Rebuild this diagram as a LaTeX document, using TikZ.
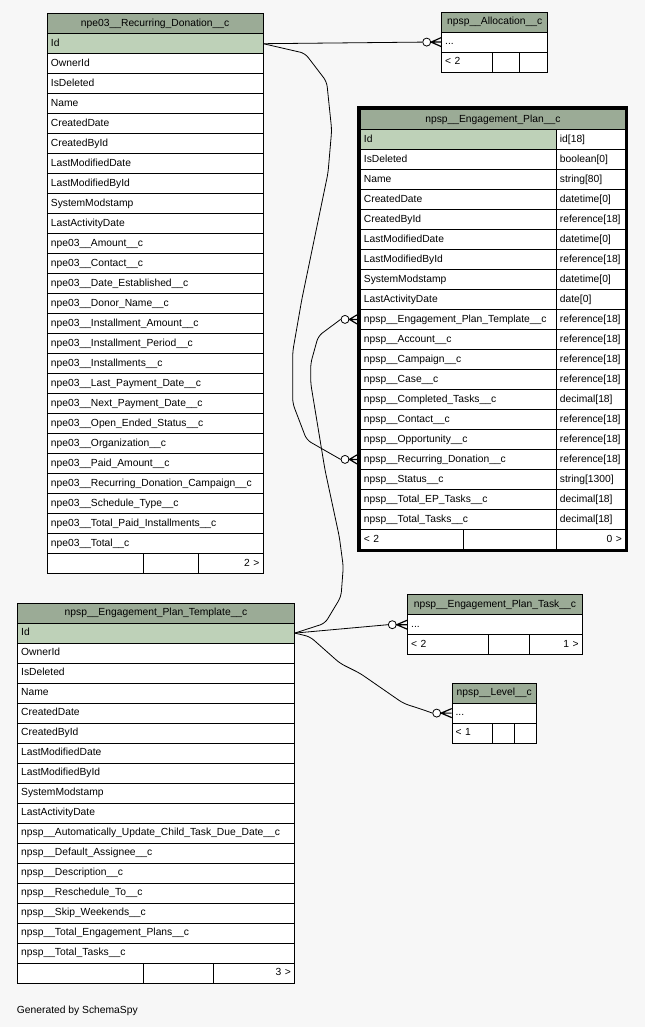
\documentclass[tikz,border=0pt]{standalone}
\usepackage{fontspec}
\setmainfont{Liberation Sans}
\usetikzlibrary{calc}
\definecolor{bgc}{HTML}{F7F7F7}
\definecolor{hdrc}{HTML}{9BAB96}
\definecolor{pkc}{HTML}{BED1B8}
\begin{document}
\begin{tikzpicture}[x=1pt,y=-1pt,font=\fontsize{10.3}{12}\selectfont,
  cell/.style={draw=black,fill=white,line width=0.8pt,inner xsep=3.5pt,inner ysep=0pt,
    minimum height=20pt,text width=#1,align=left,anchor=north west,text height=7.5pt,text depth=2pt},
  cellr/.style={cell=#1,align=right},
  pk/.style={cell=#1,fill=pkc},
  hdr/.style={draw=black,fill=hdrc,line width=0.8pt,inner sep=0pt,minimum height=20pt,
    minimum width=#1,anchor=north west,text height=7.5pt,text depth=2pt},
  conn/.style={draw=black,line width=0.8pt,rounded corners=5pt},
  crowline/.style={draw=black,line width=1.2pt},
  odot/.style={circle,draw=black,fill=white,line width=0.8pt,inner sep=0pt,minimum size=8pt}]
\fill[bgc] (0,0) rectangle (645,1027);
\useasboundingbox (0,0) rectangle (645,1027);

% ---- npe03__Recurring_Donation__c
\node[hdr=215.5] (rdh) at (47,13.3) {npe03\_\_Recurring\_Donation\_\_c};
\node[pk=208.5] (rd0) at (47,33.3) {Id};
\foreach \t [count=\i from 1] in {OwnerId,IsDeleted,Name,CreatedDate,CreatedById,LastModifiedDate,LastModifiedById,SystemModstamp,LastActivityDate,npe03\_\_Amount\_\_c,npe03\_\_Contact\_\_c,npe03\_\_Date\_Established\_\_c,npe03\_\_Donor\_Name\_\_c,npe03\_\_Installment\_Amount\_\_c,npe03\_\_Installment\_Period\_\_c,npe03\_\_Installments\_\_c,npe03\_\_Last\_Payment\_Date\_\_c,npe03\_\_Next\_Payment\_Date\_\_c,npe03\_\_Open\_Ended\_Status\_\_c,npe03\_\_Organization\_\_c,npe03\_\_Paid\_Amount\_\_c,npe03\_\_Recurring\_Donation\_Campaign\_\_c,npe03\_\_Schedule\_Type\_\_c,npe03\_\_Total\_Paid\_Installments\_\_c,npe03\_\_Total\_\_c}
  \node[cell=208.5] (rd\i) at (47,{33.3+20*\i}) {\t};
\node[cell=88.7] (rdf1) at (47,553.3) {};
\node[cell=48] (rdf2) at (142.7,553.3) {};
\node[cellr=57.8] (rdf3) at (197.7,553.3) {2 >};

% ---- npsp__Allocation__c
\node[hdr=106] (alh) at (441.3,11.7) {npsp\_\_Allocation\_\_c};
\node[cell=99] (al0) at (441.3,31.7) {...};
\node[cell=44] (alf1) at (441.3,51.7) {< 2};
\node[cell=20] (alf2) at (492.3,51.7) {};
\node[cell=21] (alf3) at (519.3,51.7) {};

% ---- npsp__Engagement_Plan__c
\node[hdr=265] (eph) at (360,109) {npsp\_\_Engagement\_Plan\_\_c};
\node[pk=189] (ep0) at (360,129) {Id};
\node[cell=62] (ept0) at (556,129) {id[18]};
\foreach \n/\t [count=\i from 1] in {IsDeleted/boolean[0],Name/string[80],CreatedDate/datetime[0],CreatedById/reference[18],LastModifiedDate/datetime[0],LastModifiedById/reference[18],SystemModstamp/datetime[0],LastActivityDate/date[0],npsp\_\_Engagement\_Plan\_Template\_\_c/reference[18],npsp\_\_Account\_\_c/reference[18],npsp\_\_Campaign\_\_c/reference[18],npsp\_\_Case\_\_c/reference[18],npsp\_\_Completed\_Tasks\_\_c/decimal[18],npsp\_\_Contact\_\_c/reference[18],npsp\_\_Opportunity\_\_c/reference[18],npsp\_\_Recurring\_Donation\_\_c/reference[18],npsp\_\_Status\_\_c/string[1300],npsp\_\_Total\_EP\_Tasks\_\_c/decimal[18],npsp\_\_Total\_Tasks\_\_c/decimal[18]}
  {\node[cell=189] (ep\i) at (360,{129+20*\i}) {\n};
   \node[cell=62] (ept\i) at (556,{129+20*\i}) {\t};}
\node[cell=96] (epf1) at (360,529) {< 2};
\node[cell=86] (epf2) at (463,529) {};
\node[cellr=62] (epf3) at (556,529) {0 >};
\draw[line width=3pt] (358.5,107.5) rectangle (626.5,550.5);

% ---- npsp__Engagement_Plan_Template__c
\node[hdr=276.7] (tph) at (17.3,602.7) {npsp\_\_Engagement\_Plan\_Template\_\_c};
\node[pk=269.7] (tp0) at (17.3,622.7) {Id};
\foreach \t [count=\i from 1] in {OwnerId,IsDeleted,Name,CreatedDate,CreatedById,LastModifiedDate,LastModifiedById,SystemModstamp,LastActivityDate,npsp\_\_Automatically\_Update\_Child\_Task\_Due\_Date\_\_c,npsp\_\_Default\_Assignee\_\_c,npsp\_\_Description\_\_c,npsp\_\_Reschedule\_To\_\_c,npsp\_\_Skip\_Weekends\_\_c,npsp\_\_Total\_Engagement\_Plans\_\_c,npsp\_\_Total\_Tasks\_\_c}
  \node[cell=269.7] (tp\i) at (17.3,{622.7+20*\i}) {\t};
\node[cell=119] (tpf1) at (17.3,962.7) {};
\node[cell=63] (tpf2) at (143.3,962.7) {};
\node[cellr=73.7] (tpf3) at (213.3,962.7) {3 >};

% ---- npsp__Engagement_Plan_Task__c
\node[hdr=174.4] (tah) at (407.3,594.3) {npsp\_\_Engagement\_Plan\_Task\_\_c};
\node[cell=167.4] (ta0) at (407.3,614.3) {...};
\node[cell=73.4] (taf1) at (407.3,634.3) {< 2};
\node[cell=34.6] (taf2) at (487.7,634.3) {};
\node[cellr=45.4] (taf3) at (529.3,634.3) {1 >};

% ---- npsp__Level__c
\node[hdr=84.3] (lvh) at (451.7,682.7) {npsp\_\_Level\_\_c};
\node[cell=77.3] (lv0) at (451.7,702.7) {...};
\node[cell=33] (lvf1) at (451.7,722.7) {< 1};
\node[cell=15.3] (lvf2) at (491.7,722.7) {};
\node[cell=15] (lvf3) at (514,722.7) {};

% ---- connectors
\coordinate (rdId) at (rd0.east);
\coordinate (tpId) at (tp0.east);
\node[odot] (c1) at ($(al0.west)+(-14.6,0)$) {};
\node[odot] (c2) at ($(ep16.west)+(-15,0)$) {};
\node[odot] (c3) at ($(ep9.west)+(-15,0)$) {};
\node[odot] (c4) at ($(ta0.west)+(-15,0)$) {};
\node[odot] (c5) at ($(lv0.west)+(-15,0)$) {};

\draw[conn] (rdId) -- (c1.west);
\draw[conn] (rdId) -- (305,53.3) -- (326.7,81.7) -- (331.7,130) -- (328,173) -- (301.7,300)
  -- (292.7,351.7) -- (292.7,403.3) -- (306.7,440) -- (c2.west);
\draw[conn] (tpId) -- (325,623.3) -- (341,596.7) -- (343.3,566.7) -- (339.3,536.7) -- (325,470)
  -- (310.7,383.3) -- (310.7,363.3) -- (318.3,336) -- (c3.west);
\draw[conn] (tpId) -- (c4.west);
\draw[conn] (tpId) -- (310,636.7) -- (340,663.3) -- (360,673.3) -- (403.3,703.3) -- (426.7,711) -- (c5.west);

\draw[crowline] ($(al0.west)+(0,-4.5)$) -- (c1.east) -- ($(al0.west)+(0,4.5)$) (c1.east) -- (al0.west);
\draw[crowline] ($(ep16.west)+(-3,-4.5)$) -- (c2.east) -- ($(ep16.west)+(-3,4.5)$) (c2.east) -- ($(ep16.west)+(-3,0)$);
\draw[crowline] ($(ep9.west)+(-3,-4.5)$) -- (c3.east) -- ($(ep9.west)+(-3,4.5)$) (c3.east) -- ($(ep9.west)+(-3,0)$);
\draw[crowline] ($(ta0.west)+(0,-4.5)$) -- (c4.east) -- ($(ta0.west)+(0,4.5)$) (c4.east) -- (ta0.west);
\draw[crowline] ($(lv0.west)+(0,-4.5)$) -- (c5.east) -- ($(lv0.west)+(0,4.5)$) (c5.east) -- (lv0.west);

\node[anchor=west,inner sep=0pt] (gen) at (16.7,1010.5) {Generated by SchemaSpy};
\end{tikzpicture}
\end{document}
